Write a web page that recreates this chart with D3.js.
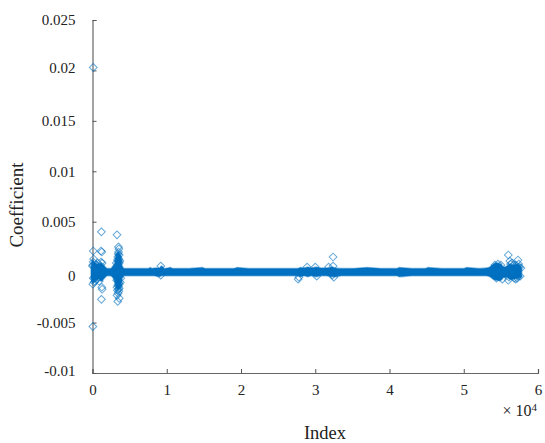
<!DOCTYPE html>
<html>
<head>
<meta charset="utf-8">
<script src="https://cdnjs.cloudflare.com/ajax/libs/d3/7.8.5/d3.min.js"></script>
<style>
  html, body { margin: 0; padding: 0; background: white; }
  text { font-family: "Liberation Serif", serif; fill: #222; }
</style>
</head>
<body>
<div id="chart"></div>
<script>
const yTicks = [-0.01, -0.005, 0, 0.005, 0.01, 0.015, 0.02, 0.025];
const yTickLabels = ["-0.01", "-0.005", "0", "0.005", "0.01", "0.015", "0.02", "0.025"];
const xTicks = [0, 10000, 20000, 30000, 40000, 50000, 60000];
const xTickLabels = ["0", "1", "2", "3", "4", "5", "6"];

// outline of the solid core, where the markers overlap too much to tell apart
const bandIndex = [-200, 0, 400, 800, 1200, 1600, 2000, 2400, 2800, 3000, 3200, 3500, 3800, 4000, 4300, 4600, 5500, 6500, 7500, 7800, 8000, 8300,
    9000, 9300, 9700, 10500, 10800, 11500, 13000, 14800, 15200, 17000, 19000, 19500, 21000, 23000, 25000, 26500, 27600,
    28000, 28500, 29000, 29500, 30100, 30800, 31500, 32300, 32700, 33500, 35000, 37000, 39000, 41000, 41300, 43000, 44800,
    45200, 47000, 48500, 50000, 50400, 52000, 53000, 53500, 54000, 54400, 55000, 55400, 55800, 56200, 56700, 57200, 57800];
const bandHigh = [0.0005, 0.0012, 0.0009, 0.0008, 0.0009, 0.0006, 0.00035, 0.00035, 0.0006, 0.0009, 0.0018, 0.002, 0.0016, 0.0006, 0.00035, 0.00035, 0.00035, 0.00035, 0.00035, 0.00045, 0.00035, 0.0004,
    0.0004, 0.0006, 0.00035, 0.00045, 0.00035, 0.00035, 0.00035, 0.00045, 0.00035, 0.00035, 0.00035, 0.00045, 0.00035, 0.00035, 0.00035, 0.00035, 0.00035,
    0.00045, 0.0004, 0.0005, 0.0004, 0.0005, 0.0004, 0.0004, 0.0005, 0.0004, 0.00035, 0.00035, 0.00045, 0.00035, 0.00035, 0.00045, 0.00035, 0.00035,
    0.00045, 0.00035, 0.00035, 0.00035, 0.00045, 0.00035, 0.0004, 0.0005, 0.0008, 0.0009, 0.0008, 0.0005, 0.0006, 0.0008, 0.0007, 0.0008, 0.0005];
const bandLow = [-0.0005, -0.0011, -0.0008, -0.0007, -0.0009, -0.0006, -0.00035, -0.00035, -0.0006, -0.0009, -0.0015, -0.0017, -0.0014, -0.0006, -0.00035, -0.00035, -0.00035, -0.00035, -0.00035, -0.00035, -0.00035, -0.00035,
    -0.00045, -0.00035, -0.00035, -0.00035, -0.00035, -0.00035, -0.00035, -0.00035, -0.00035, -0.00035, -0.00035, -0.00035, -0.00035, -0.00035, -0.00035, -0.00035, -0.00035,
    -0.00045, -0.00035, -0.00045, -0.00035, -0.00045, -0.00035, -0.00035, -0.00045, -0.00045, -0.00035, -0.00035, -0.00035, -0.00035, -0.00035, -0.00045, -0.00035, -0.00035,
    -0.00035, -0.00035, -0.00035, -0.00035, -0.00035, -0.00035, -0.00035, -0.00045, -0.0007, -0.0008, -0.0008, -0.0005, -0.0005, -0.0007, -0.0007, -0.0006, -0.0005];

// points that can still be told apart
const pointIndex = [100, 50, 1200, 1150, 1250, 100, 150, 100, 50, 200, 350, 50, 100, 600, 1200, 1300, 1250, 900, 700, 1150, 1300, 0, 300, 500, 800, 1000,
    3300, 3500, 3550, 3500, 3450, 3600, 3400, 3550, 3500, 3600, 3350, 3450, 3550, 3600, 3400, 3500, 3300, 3600, 3350, 3550, 3450, 3300, 3500, 3400, 3600,
    3200, 3700, 3250, 3750, 3150, 3800,
    9200, 9200, 27700, 27800, 28900, 30000, 30200, 31800, 32400, 32500, 32400, 32300,
    54200, 54600, 55000, 55200, 54400, 54800, 56000, 56200, 56300, 56000, 56100, 56500, 56800, 57000, 57300, 57400, 57500, 57200, 57300, 57000, 56700, 57700, 57600];
const pointValue = [0.0203, -0.0054, 0.004, 0.0021, 0.002, 0.0021, 0.0013, 0.001, -0.0012, -0.001, -0.0009, 0.0007, -0.0006, -0.0007, -0.0027, -0.0017, -0.0015, -0.0009, 0.0009, 0.001, 0.0009, 0.0006, -0.0006, 0.0007, -0.0005, 0.0006,
    0.0037, 0.0025, 0.0023, 0.002, 0.0018, 0.0017, 0.0015, 0.0013, 0.0011, 0.0009, 0.0012, -0.0009, -0.0011, -0.0012, -0.0013, -0.0014, -0.0015, -0.0016, -0.0018, -0.0019, -0.0021, -0.0023, -0.0017, -0.0029, -0.0026,
    0.0009, 0.0011, -0.0008, -0.001, 0.0005, -0.0006,
    0.0006, -0.0003, -0.0007, -0.0005, 0.0005, 0.0005, -0.0004, 0.0005, 0.0015, -0.0005, 0.0006, -0.0003,
    0.0007, 0.0008, 0.0007, -0.0007, -0.0006, -0.0005, 0.0017, 0.0011, 0.0008, -0.0008, -0.0005, 0.0009, -0.0006, 0.0007, 0.0012, 0.0008, 0.0005, -0.0006, -0.0004, -0.0007, 0.0007, 0.0004, -0.0004];

const width = 545, height = 443;
const margin = { top: 20, right: 7, bottom: 70, left: 92.5 };
const color = "#0070c0";

const svg = d3.select("#chart").append("svg")
    .attr("width", width)
    .attr("height", height)
    .style("display", "block");

const x = d3.scaleLinear().domain([0, 60000]).range([margin.left, width - margin.right]);
const y = d3.scaleLinear().domain([-0.01, 0.025]).range([height - margin.bottom, margin.top]);

// Axes
svg.append("g")
    .attr("transform", `translate(0,${height - margin.bottom})`)
    .call(d3.axisBottom(x).tickValues(xTicks).tickSize(-4).tickPadding(11)
        .tickFormat((d, i) => xTickLabels[i]));
const yAxis = svg.append("g")
    .attr("transform", `translate(${margin.left},0)`)
    .call(d3.axisLeft(y).tickValues(yTicks).tickSize(-4).tickPadding(17)
        .tickFormat((d, i) => yTickLabels[i]));

svg.selectAll(".domain").attr("stroke", "#666").attr("stroke-width", 1.2);
svg.selectAll(".tick line").attr("stroke", "#555");
svg.selectAll(".tick text").style("font-family", '"Liberation Serif", serif').style("font-size", "15px").attr("fill", "#222");

// the tick labels sit a little off their ticks in the original
yAxis.selectAll(".tick text").attr("y", d => d === 0 ? 4 : d === 0.02 ? -2.5 : d === -0.01 ? -2 : 0);

// Band
const area = d3.area()
    .x((d, i) => x(bandIndex[i]))
    .y0((d, i) => y(bandLow[i]))
    .y1((d, i) => y(bandHigh[i]))
    .curve(d3.curveMonotoneX);

svg.append("path")
    .datum(bandIndex)
    .attr("d", area)
    .attr("fill", color)
    .attr("stroke", color)
    .attr("stroke-opacity", 0.45)
    .attr("stroke-width", 1.5);

// Points
const diamond = d3.symbol().type(d3.symbolSquare).size(30);

svg.append("g")
    .selectAll("path")
    .data(pointIndex)
    .join("path")
    .attr("d", diamond)
    .attr("transform", (d, i) => `translate(${x(d)},${y(pointValue[i])}) rotate(45)`)
    .attr("fill", "none")
    .attr("stroke", color)
    .attr("stroke-opacity", 0.6)
    .attr("stroke-width", 1);

// Labels
svg.append("text")
    .attr("transform", "translate(23,205) rotate(-90)")
    .attr("text-anchor", "middle")
    .style("font-size", "19px")
    .text("Coefficient");

svg.append("text")
    .attr("x", 325)
    .attr("y", 439)
    .attr("text-anchor", "middle")
    .style("font-size", "18.5px")
    .text("Index");

const mult = svg.append("text")
    .attr("x", 537)
    .attr("y", 416)
    .attr("text-anchor", "end")
    .style("font-size", "16px");
mult.append("tspan").text("× 10");
mult.append("tspan").attr("dy", -5).style("font-size", "11px").text("4");
</script>
</body>
</html>
